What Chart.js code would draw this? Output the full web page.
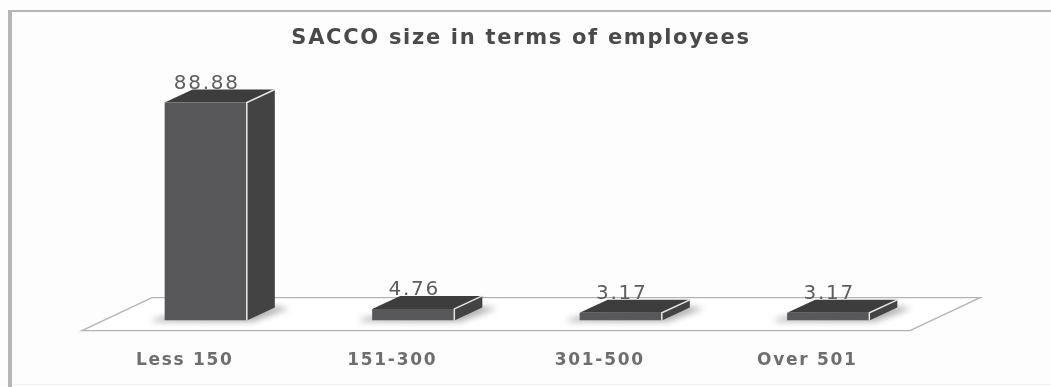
<!DOCTYPE html>
<html lang="en">
<head>
    <meta charset="UTF-8">
    <title>SACCO size in terms of employees</title>
    <script src="https://cdn.jsdelivr.net/npm/chart.js"></script>
    <style>
        html, body { margin: 0; padding: 0; background: #fdfdfd; }
        #wrap { width: 1051px; height: 387px; }
    </style>
</head>
<body>
<div id="wrap"><canvas id="barra"></canvas></div>

<script>
    const categories = ['Less 150', '151-300', '301-500', 'Over 501'];
    const percentages = [88.88, 4.76, 3.17, 3.17];

    const depthX = 28;
    const depthY = 13;

    // outer frame: heavy left edge, top rule, faint bottom rule
    const framePlugin = {
        id: 'frame',
        afterLayout(chart) {
            // title sits a little right of the plot centre
            chart.titleBlock.left += 8;
        },
        beforeDraw(chart) {
            const c = chart.ctx;
            c.letterSpacing = '1.7px';
            c.save();
            c.fillStyle = '#b6b6b6';
            c.fillRect(8, 10, 1043, 2);
            c.fillRect(8, 10, 4, 377);
            c.fillStyle = '#f0f0f0';
            c.fillRect(12, 384, 1039, 1);
            c.restore();
        }
    };

    // floor, shadows, value labels and the side/top faces, all under the front face
    const box3dPlugin = {
        id: 'box3d',
        beforeDatasetsDraw(chart) {
            const c = chart.ctx;
            const area = chart.chartArea;
            const yBase = chart.scales.y.getPixelForValue(0);
            const floorFront = yBase + 10;
            const floorBack = yBase - 23;

            c.save();
            c.strokeStyle = '#b4b4b4';
            c.fillStyle = '#ffffff';
            c.lineWidth = 1.4;
            c.beginPath();
            c.moveTo(area.left - 20, floorFront);
            c.lineTo(area.left + 50, floorBack);
            c.lineTo(area.right + 48, floorBack);
            c.lineTo(area.right - 22, floorFront);
            c.closePath();
            c.fill();
            c.stroke();

            chart.getDatasetMeta(0).data.forEach((bar, i) => {
                const left = bar.x - bar.width / 2;
                const right = bar.x + bar.width / 2;

                // soft shadow on the floor
                c.save();
                c.filter = 'blur(3px)';
                c.fillStyle = '#b0b0b0';
                c.beginPath();
                c.moveTo(left - 12, yBase - 1);
                c.lineTo(left, yBase - 4);
                c.lineTo(right + depthX, yBase - depthY - 1);
                c.lineTo(right + depthX + 14, yBase - depthY + 1);
                c.lineTo(right + 6, yBase + 1);
                c.lineTo(left - 12, yBase + 1);
                c.closePath();
                c.fill();
                c.restore();

                c.fillStyle = '#5e5e5e';
                c.font = '20px "DejaVu Sans"';
                c.textAlign = 'center';
                c.textBaseline = 'middle';
                c.fillText(percentages[i].toFixed(2), bar.x + 1, bar.y - 19);

                // top face
                c.fillStyle = '#3d3d3d';
                c.beginPath();
                c.moveTo(left, bar.y);
                c.lineTo(left + depthX, bar.y - depthY);
                c.lineTo(right + depthX, bar.y - depthY);
                c.lineTo(right, bar.y);
                c.closePath();
                c.fill();

                // side face
                c.fillStyle = '#434343';
                c.beginPath();
                c.moveTo(right, bar.y);
                c.lineTo(right + depthX, bar.y - depthY);
                c.lineTo(right + depthX, yBase - depthY);
                c.lineTo(right, yBase);
                c.closePath();
                c.fill();
            });
            c.restore();
        },
        afterDatasetsDraw(chart) {
            const c = chart.ctx;
            const yBase = chart.scales.y.getPixelForValue(0);
            c.save();
            c.strokeStyle = '#e6e6e6';
            c.lineWidth = 1.5;
            chart.getDatasetMeta(0).data.forEach(bar => {
                const right = bar.x + bar.width / 2;
                c.beginPath();
                c.moveTo(right, yBase);
                c.lineTo(right, bar.y);
                c.lineTo(right + depthX, bar.y - depthY);
                c.stroke();
            });
            c.restore();
        }
    };

    new Chart(document.getElementById('barra'), {
        type: 'bar',
        data: {
            labels: categories,
            datasets: [{
                data: percentages,
                backgroundColor: '#58585a',
                borderWidth: 0,
                barPercentage: 0.396,
                categoryPercentage: 1
            }]
        },
        plugins: [framePlugin, box3dPlugin],
        options: {
            responsive: true,
            maintainAspectRatio: false,
            animation: false,
            layout: { padding: { left: 102, right: 119, top: 0, bottom: -6 } },
            plugins: {
                legend: { display: false },
                tooltip: { enabled: false },
                title: {
                    display: true,
                    text: 'SACCO size in terms of employees',
                    color: '#4a4a4a',
                    font: { family: '"DejaVu Sans"', size: 21, weight: 'bold' },
                    padding: { top: 26, bottom: 24 }
                }
            },
            scales: {
                x: {
                    grid: { display: false },
                    border: { display: false },
                    ticks: {
                        color: '#6e6e6e',
                        padding: 22,
                        labelOffset: -21,
                        maxRotation: 0,
                        font: { family: '"DejaVu Sans"', size: 17, weight: 'bold' }
                    }
                },
                y: { display: false, min: 0, max: 100 }
            }
        }
    });
</script>
</body>
</html>
